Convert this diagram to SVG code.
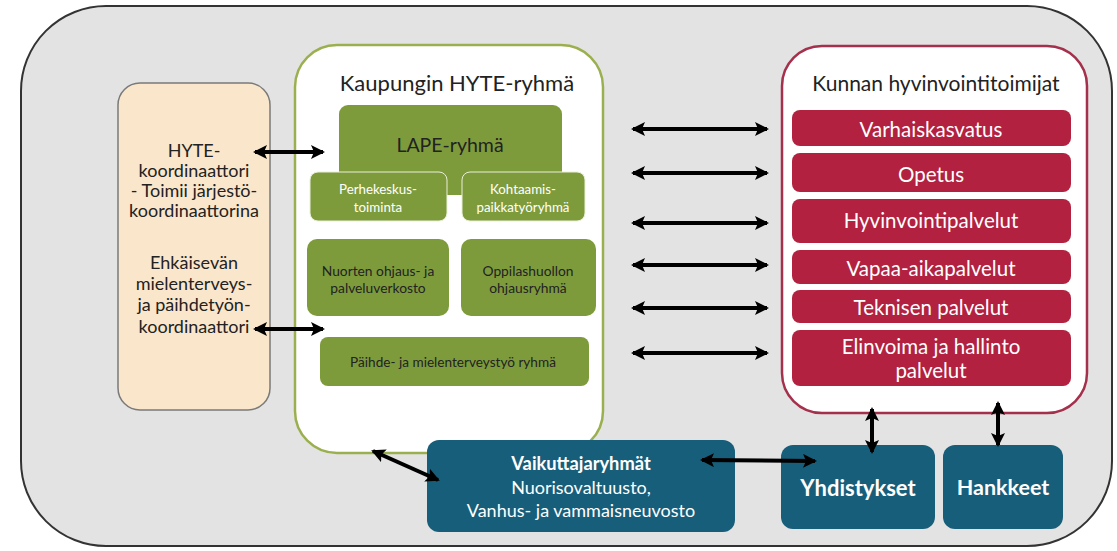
<svg xmlns="http://www.w3.org/2000/svg" width="1117" height="551" viewBox="0 0 1117 551">
<defs>
<marker id="ah" viewBox="0 0 14 14" refX="12" refY="7" markerWidth="14" markerHeight="14" markerUnits="userSpaceOnUse" orient="auto-start-reverse">
<path d="M0,0 L14,7 L0,14 L3,7 Z" fill="#000"/>
</marker>
<style>
text{font-family:Lato,"Open Sans","Liberation Sans",sans-serif;text-anchor:middle;dominant-baseline:central}
.g{fill:#7E9B3C}
.r{fill:#B2213F}
.t{fill:#175E7A}
.w{fill:#fff}
.d{fill:#222}
.arr{stroke:#000;stroke-width:4;fill:none;marker-start:url(#ah);marker-end:url(#ah)}
</style>
</defs>
<rect x="21" y="6" width="1091" height="540" rx="85" fill="#E3E3E3" stroke="#333" stroke-width="2"/>

<g id="koordinaattorit">
<rect x="118" y="83" width="152" height="327" rx="22" fill="#FAE6CB" stroke="#7a7a7a" stroke-width="1.5"/>
<text class="d" font-size="18" x="194" y="150">HYTE-</text>
<text class="d" font-size="18" x="194" y="170">koordinaattori</text>
<text class="d" font-size="18" x="194" y="190">- Toimii järjestö-</text>
<text class="d" font-size="18" x="194" y="210">koordinaattorina</text>
<text class="d" font-size="18" x="194" y="262">Ehkäisevän</text>
<text class="d" font-size="18" x="194" y="283">mielenterveys-</text>
<text class="d" font-size="18" x="194" y="304">ja päihdetyön-</text>
<text class="d" font-size="18" x="194" y="326">koordinaattori</text>
</g>

<g id="hyte-ryhma">
<rect x="295" y="45" width="308" height="408" rx="42" fill="#fff" stroke="#9AB04F" stroke-width="2.5"/>
<text class="d" font-size="22" x="457" y="82">Kaupungin HYTE-ryhmä</text>
</g>
<g id="lape">
<rect class="g" x="339" y="105" width="223" height="90" rx="9"/>
<text class="d" font-size="19.5" x="450" y="144">LAPE-ryhmä</text>
</g>
<g id="perhekeskus">
<rect class="g" x="310" y="172" width="137" height="49" rx="8" stroke="#E9EFD9" stroke-width="1"/>
<text class="w" font-size="13.3" x="378" y="189">Perhekeskus-</text>
<text class="w" font-size="13.3" x="378" y="207">toiminta</text>
</g>
<g id="kohtaamis">
<rect class="g" x="462" y="172" width="123" height="49" rx="8" stroke="#E9EFD9" stroke-width="1"/>
<text class="w" font-size="13.3" x="523" y="189">Kohtaamis-</text>
<text class="w" font-size="13.3" x="523" y="207">paikkatyöryhmä</text>
</g>
<g id="nuorten">
<rect class="g" x="307" y="239" width="142" height="77" rx="10"/>
<text class="d" font-size="13.8" x="378" y="270">Nuorten ohjaus- ja</text>
<text class="d" font-size="13.8" x="378" y="287">palveluverkosto</text>
</g>
<g id="oppilashuolto">
<rect class="g" x="461" y="239" width="135" height="77" rx="10"/>
<text class="d" font-size="13.8" x="528" y="270">Oppilashuollon</text>
<text class="d" font-size="13.8" x="528" y="287">ohjausryhmä</text>
</g>
<g id="paihde">
<rect class="g" x="320" y="337" width="269" height="49" rx="8"/>
<text class="d" font-size="13.6" x="453" y="362">Päihde- ja mielenterveystyö ryhmä</text>
</g>

<g id="kunnan-toimijat">
<rect x="782" y="46" width="305" height="367" rx="40" fill="#fff" stroke="#A5304C" stroke-width="2.5"/>
<text class="d" font-size="21" x="936" y="82">Kunnan hyvinvointitoimijat</text>
</g>
<g id="varhaiskasvatus"><rect class="r" x="792" y="110" width="279" height="36" rx="8"/><text class="w" font-size="20.5" x="931" y="129">Varhaiskasvatus</text></g>
<g id="opetus"><rect class="r" x="792" y="153" width="279" height="39" rx="8"/><text class="w" font-size="20.5" x="931" y="174">Opetus</text></g>
<g id="hyvinvointipalvelut"><rect class="r" x="792" y="199" width="279" height="44" rx="8"/><text class="w" font-size="20.5" x="931" y="220">Hyvinvointipalvelut</text></g>
<g id="vapaa-aikapalvelut"><rect class="r" x="792" y="250" width="279" height="34" rx="8"/><text class="w" font-size="20.5" x="931" y="268">Vapaa-aikapalvelut</text></g>
<g id="teknisen"><rect class="r" x="792" y="290" width="279" height="33" rx="8"/><text class="w" font-size="20.5" x="931" y="307">Teknisen palvelut</text></g>
<g id="elinvoima"><rect class="r" x="792" y="330" width="279" height="56" rx="8"/><text class="w" font-size="20.5" x="931" y="346">Elinvoima ja hallinto</text><text class="w" font-size="20.5" x="931" y="370">palvelut</text></g>

<g id="vaikuttajaryhmat">
<rect class="t" x="427" y="440" width="308" height="92" rx="12"/>
<text class="w" font-size="18.3" font-weight="bold" x="581" y="463">Vaikuttajaryhmät</text>
<text class="w" font-size="18" x="581" y="487">Nuorisovaltuusto,</text>
<text class="w" font-size="18" x="581" y="510">Vanhus- ja vammaisneuvosto</text>
</g>
<g id="yhdistykset">
<rect class="t" x="781" y="445" width="154" height="84" rx="12"/>
<text class="w" font-size="22" font-weight="bold" x="858" y="487">Yhdistykset</text>
</g>
<g id="hankkeet">
<rect class="t" x="943" y="445" width="120" height="84" rx="12"/>
<text class="w" font-size="21.5" font-weight="bold" x="1003" y="487">Hankkeet</text>
</g>

<g id="connectors">
<line class="arr" x1="255" y1="152" x2="323" y2="152"/>
<line class="arr" x1="255" y1="329" x2="323" y2="329"/>
<line class="arr" x1="633" y1="129" x2="767" y2="129"/>
<line class="arr" x1="633" y1="173" x2="767" y2="173"/>
<line class="arr" x1="633" y1="223" x2="767" y2="223"/>
<line class="arr" x1="633" y1="265" x2="767" y2="265"/>
<line class="arr" x1="633" y1="308" x2="767" y2="308"/>
<line class="arr" x1="633" y1="353" x2="767" y2="353"/>
<line class="arr" x1="373" y1="451" x2="438" y2="480"/>
<line class="arr" x1="702" y1="460" x2="815" y2="461"/>
<line class="arr" x1="872" y1="409" x2="872" y2="452"/>
<line class="arr" x1="998" y1="403" x2="998" y2="445"/>
</g>
</svg>
